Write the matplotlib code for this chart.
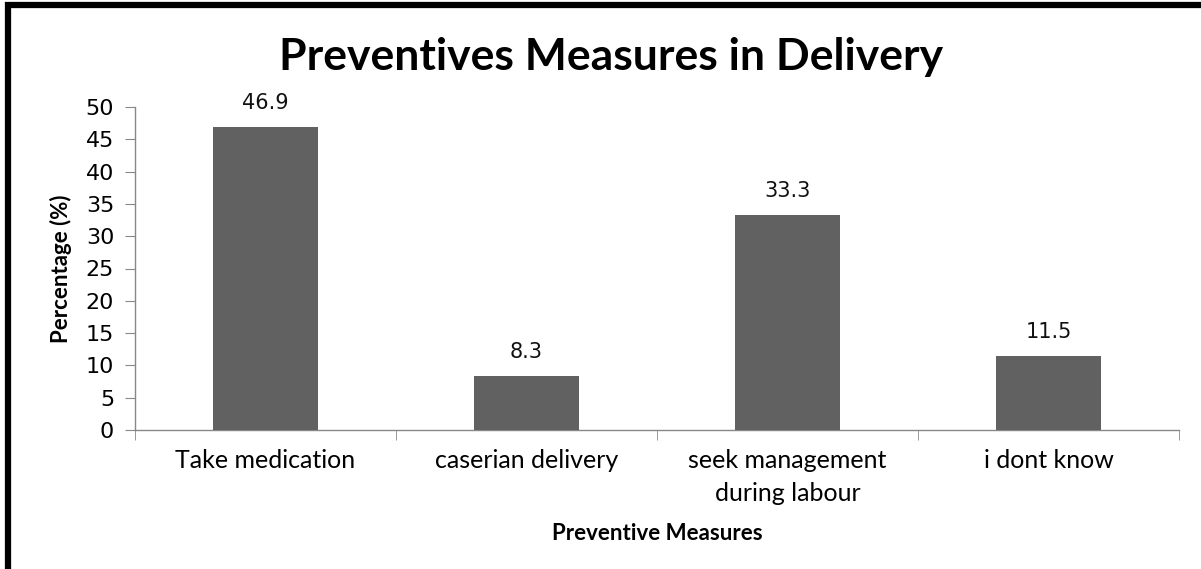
import matplotlib
matplotlib.use('Agg')
import matplotlib.pyplot as plt
from matplotlib.patches import Rectangle
import numpy as np

categories = ["Take medication", "caserian delivery", "seek management\nduring labour", "i dont know"]
values = [46.9, 8.3, 33.3, 11.5]
value_labels = ["46.9", "8.3", "33.3", "11.5"]
y_ticks = [0, 5, 10, 15, 20, 25, 30, 35, 40, 45, 50]

narrow = ['Lato', 'DejaVu Sans']

fig = plt.figure(figsize=(12.01, 5.69), dpi=100)
ax = fig.add_axes([135/1201, 1 - 430/569, (1179 - 135)/1201, (430 - 107)/569])

x = np.arange(len(categories))
ax.bar(x, values, width=0.4, color='#616161', zorder=3)
for xi, v, lab in zip(x, values, value_labels):
    ax.annotate(lab, (xi, v), xytext=(0, 10), textcoords='offset points',
                ha='center', va='bottom', fontsize=15, family='DejaVu Sans', color='#111111')

ax.set_xlim(-0.5, len(categories) - 0.5)
ax.set_ylim(0, 50)
ax.set_yticks(y_ticks)
ax.set_yticklabels([str(t) for t in y_ticks], fontsize=16, family='DejaVu Sans')
ax.set_xticks(x)
ax.set_xticklabels(categories, fontsize=18, family=narrow, linespacing=1.5, va='top')
ax.set_xticks(np.arange(len(categories) + 1) - 0.5, minor=True)
ax.tick_params(axis='x', which='major', length=0, pad=14)
ax.tick_params(axis='x', which='minor', length=7, color='#888888', direction='out')
ax.tick_params(axis='y', length=7, color='#888888', direction='out', pad=8)

for s in ['top', 'right']:
    ax.spines[s].set_visible(False)
for s in ['left', 'bottom']:
    ax.spines[s].set_color('#888888')
    ax.spines[s].set_linewidth(1.0)

ax.set_ylabel('Percentage (%)', fontsize=16, fontweight='bold', family=narrow, labelpad=10)
ax.set_xlabel('Preventive Measures', fontsize=16, fontweight='bold', family=narrow, labelpad=13)

fig.text(611/1201, 1 - 57/569, 'Preventives Measures in Delivery', ha='center', va='center',
         fontsize=32, fontweight='bold', family=narrow)

# outer frame (top and left edges visible)
fig.patches.append(Rectangle((8/1201, -0.1), 1.2, 1 - 5/569 + 0.1, transform=fig.transFigure,
                             fill=False, edgecolor='black', linewidth=4.5, zorder=10))

fig.savefig('out.png', dpi=100)
